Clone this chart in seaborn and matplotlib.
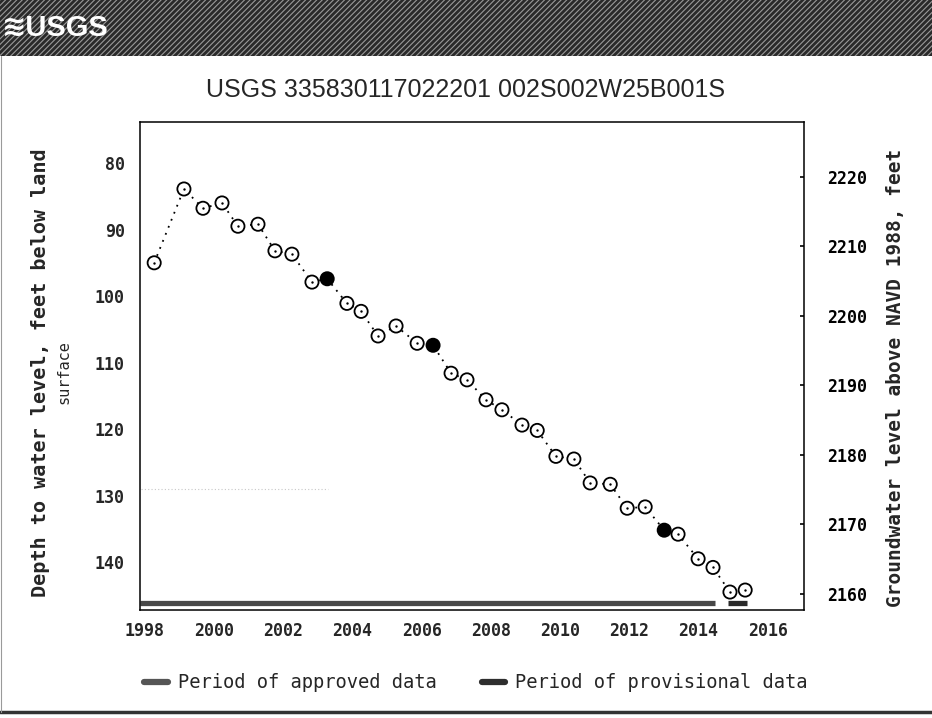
import matplotlib
matplotlib.use("Agg")
import matplotlib.pyplot as plt
from matplotlib.patches import Rectangle
from matplotlib.lines import Line2D
import pandas as pd
import seaborn as sns

# ---- data -------------------------------------------------------------
site_title = "USGS 335830117022201 002S002W25B001S"

meas_year = [1998.27, 1999.13, 1999.68, 2000.23, 2000.69, 2001.27, 2001.76, 2002.25,
             2002.83, 2003.27, 2003.84, 2004.25, 2004.74, 2005.26, 2005.87, 2006.33,
             2006.85, 2007.31, 2007.86, 2008.32, 2008.90, 2009.34, 2009.88, 2010.40,
             2010.87, 2011.45, 2011.94, 2012.46, 2013.01, 2013.41, 2013.99, 2014.42,
             2014.91, 2015.35]
depth_ft = [95.0, 83.9, 86.8, 86.0, 89.5, 89.2, 93.2, 93.7,
            97.9, 97.4, 101.1, 102.3, 106.0, 104.5, 107.1, 107.4,
            111.6, 112.6, 115.6, 117.1, 119.4, 120.2, 124.1, 124.5,
            128.1, 128.3, 131.9, 131.7, 135.2, 135.8, 139.5, 140.8,
            144.5, 144.2]
marker_kind = ["open", "open", "open", "open", "open", "open", "open", "open",
               "open", "filled", "open", "open", "open", "open", "open", "filled",
               "open", "open", "open", "open", "open", "open", "open", "open",
               "open", "open", "open", "open", "filled", "open", "open", "open",
               "open", "open"]

approved_period = [1997.86, 2014.48]
provisional_period = [2014.86, 2015.41]

year_ticks = [1998, 2000, 2002, 2004, 2006, 2008, 2010, 2012, 2014, 2016]
depth_ticks = [80, 90, 100, 110, 120, 130, 140]
elev_ticks = [2160, 2170, 2180, 2190, 2200, 2210, 2220]

df = pd.DataFrame({"year": meas_year, "depth": depth_ft, "kind": marker_kind})

# ---- figure -----------------------------------------------------------
sns.set_theme(style="white")
plt.rcParams["font.family"] = ["DejaVu Sans"]
W, H = 932, 718
fig = plt.figure(figsize=(W / 100, H / 100), dpi=100)
fig.patch.set_facecolor("white")

def fx(px):
    return px / W

def fy(py):
    return 1 - py / H

narrow = ["Liberation Sans", "DejaVu Sans"]

# header banner
plt.rcParams["hatch.linewidth"] = 0.8
banner = Rectangle((0, fy(56)), 1, 56 / H, transform=fig.transFigure,
                   facecolor="#2a2a2a", edgecolor="#9a9a9a", hatch="//////",
                   linewidth=0, zorder=0)
fig.add_artist(banner)
fig.text(fx(2), fy(28), "≋USGS", color="white", fontsize=21, fontweight="bold",
         family=narrow, ha="left", va="center")

# title
fig.text(fx(466), fy(90), site_title, fontsize=18, family=narrow,
         ha="center", va="center")

# outer frame lines
fig.add_artist(Line2D([0, 1], [fy(712), fy(712)], transform=fig.transFigure,
                      color="#333333", lw=2.5))
fig.add_artist(Line2D([fx(1), fx(1)], [fy(56), fy(712)], transform=fig.transFigure,
                      color="#9a9a9a", lw=0.8))

# plot area
left, right, top, bottom = 140, 804, 122, 610
ax = fig.add_axes([fx(left), fy(bottom), (right - left) / W, (bottom - top) / H])
ax.set_facecolor("white")

mono = ["DejaVu Sans Mono"]

sns.lineplot(data=df, x="year", y="depth", ax=ax, color="black", lw=1.3,
             linestyle=(0, (1, 3.2)), sort=False, estimator=None, zorder=2)
sns.scatterplot(data=df, x="year", y="depth", hue="kind",
                palette={"open": "white", "filled": "black"},
                edgecolor="black", linewidth=1.3, s=90, legend=False, ax=ax, zorder=3)
sns.scatterplot(data=df[df["kind"] == "open"], x="year", y="depth", color="black",
                s=3, linewidth=0, legend=False, ax=ax, zorder=4)

# data period bars
ax.hlines(146.2, approved_period[0], approved_period[1], color="#474747", lw=3.8, zorder=2)
ax.hlines(146.2, provisional_period[0], provisional_period[1], color="#2a2a2a", lw=3.8, zorder=2)
ax.hlines(129.0, 1997.9, 2003.3, color="#c8c8c8", lw=0.8, linestyle=(0, (1, 2)), zorder=1)

ax.set_xlim(1997.86, 2017.05)
ax.set_ylim(147.2, 73.83)
ax.set_xticks(year_ticks)
ax.set_xticklabels([str(t) for t in year_ticks])
ax.set_yticks(depth_ticks)
ax.set_yticklabels([str(t) for t in depth_ticks])
ax.set_xlabel("")
ax.set_ylabel("")
ax.grid(False)
for lab in ax.get_xticklabels() + ax.get_yticklabels():
    lab.set_family(mono)
    lab.set_fontweight("bold")
    lab.set_fontsize(12)
ax.tick_params(axis="x", length=0, pad=9)
ax.tick_params(axis="y", length=0, pad=11)
for side in ["top", "left", "right", "bottom"]:
    ax.spines[side].set_color("black")
    ax.spines[side].set_linewidth(1.1)

# right-hand elevation scale
ax2 = ax.twinx()
ax2.set_ylim(2157.7, 2227.9)
ax2.set_yticks(elev_ticks)
ax2.set_yticklabels([str(t) for t in elev_ticks])
for lab in ax2.get_yticklabels():
    lab.set_family(mono)
    lab.set_fontweight("bold")
    lab.set_fontsize(12)
ax2.tick_params(axis="y", direction="in", length=3, width=1.2, pad=17, colors="black")
ax2.grid(False)
for side in ["top", "left", "right", "bottom"]:
    ax2.spines[side].set_visible(False)

# axis titles
fig.text(fx(41), fy(373), "Depth to water level, feet below land", rotation=90,
         family=mono, fontweight="bold", fontsize=14.5, ha="center", va="center")
fig.text(fx(64), fy(372), "surface", rotation=90, family=mono, fontsize=11,
         ha="center", va="center")
fig.text(fx(896), fy(378), "Groundwater level above NAVD 1988, feet", rotation=90,
         family=mono, fontweight="bold", fontsize=14, ha="center", va="center")

# legend
handles = [Line2D([], [], color="#555555", lw=4.5),
           Line2D([], [], color="#2e2e2e", lw=4.5)]
fig.legend(handles, ["Period of approved data", "Period of provisional data"],
           loc="center", bbox_to_anchor=(fx(476), fy(683)), ncol=2, frameon=False,
           prop={"family": mono, "size": 13.5}, handlelength=1.25,
           handletextpad=0.55, columnspacing=2.4)

fig.savefig("out.png", dpi=100, facecolor="white")
